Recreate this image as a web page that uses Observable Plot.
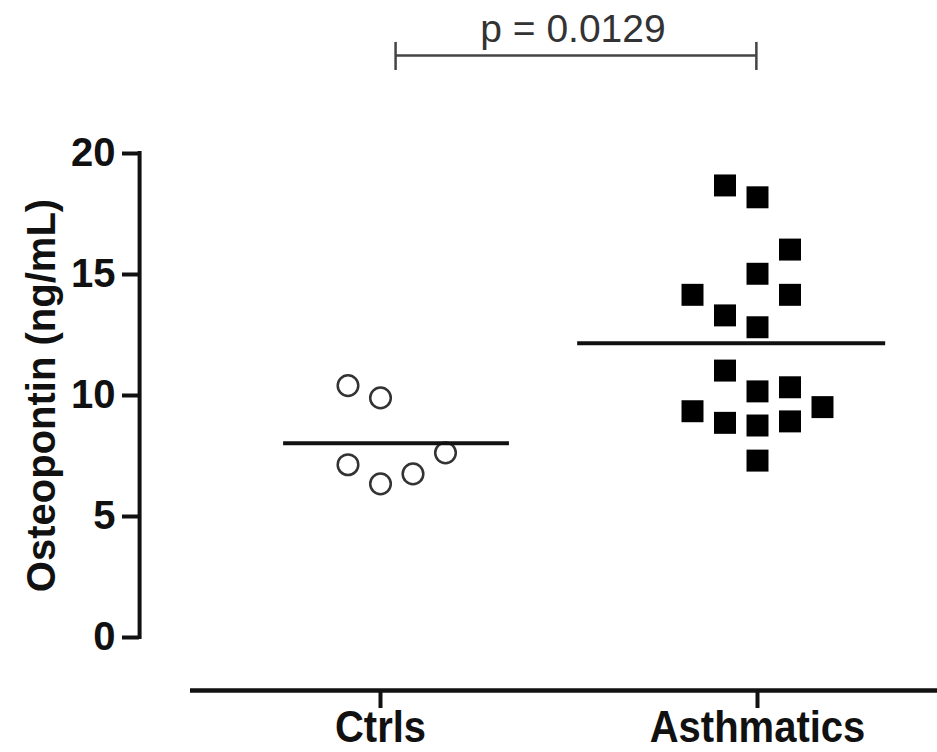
<!DOCTYPE html>
<html><head><meta charset="utf-8">
<script src="https://cdn.jsdelivr.net/npm/d3@7"></script>
<script src="https://cdn.jsdelivr.net/npm/@observablehq/plot@0.6"></script>
<style>
html,body{margin:0;padding:0;background:#fff;}
#chart svg{display:block}
</style></head><body><div id="chart"></div>
<script>
// ---- data ----
const groups = ["Ctrls", "Asthmatics"];
const ctrlValues   = [10.41, 9.90, 7.14, 6.35, 6.76, 7.63];
const ctrlColumns  = [-1, 0, -1, 0, 1, 2];
const asthmaValues = [18.68, 18.19, 16.03, 15.03, 14.16, 14.16, 13.31, 12.82, 11.03, 10.17, 10.34, 9.52, 9.35, 8.87, 8.76, 8.93, 7.31];
const asthmaColumns= [-1, 0, 1, 0, -2, 1, -1, 0, -1, 0, 1, 2, -2, -1, 0, 1, 0];
const yTicks = [0, 5, 10, 15, 20];
const yLabel = "Osteopontin (ng/mL)";
const pLabel = "p = 0.0129";

// ---- layout (group units on x, value units on y) ----
const colStep = 0.0862;                 // horizontal spacing of scatter columns
const meanExtent = [[-0.257, 0.342], [-0.477, 0.340]];
const yAxisAtX = -0.639;                // offset y-axis line
const xAxisAtY = -2.19;                 // offset x-axis line
const xAxisSpan = [-0.504, 1.48];
const bracketX = [0.04, 0.997], bracketY = 24.05, bracketCap = [23.43, 24.59];
const font = "'Liberation Sans', Arial, Helvetica, sans-serif";

const ctrl = ctrlValues.map((v, i) => ({g: 0, v, col: ctrlColumns[i]}));
const asth = asthmaValues.map((v, i) => ({g: 1, v, col: asthmaColumns[i]}));
const means = [
  {g: 0, m: d3.mean(ctrlValues),  lo: meanExtent[0][0], hi: meanExtent[0][1]},
  {g: 1, m: d3.mean(asthmaValues), lo: meanExtent[1][0], hi: meanExtent[1][1]}
];

const chart = Plot.plot({
  width: 937, height: 752,
  marginLeft: 139, marginRight: 0, marginTop: 0, marginBottom: 62,
  x: {domain: [0, 1], range: [380, 757], axis: null},
  y: {domain: [0, 20], range: [637, 153], axis: null},
  style: {fontFamily: font, background: "white", overflow: "visible"},
  marks: [
    // axes
    Plot.ruleX([0], {x: yAxisAtX, y1: 0, y2: 20, stroke: "#111", strokeWidth: 4, strokeLinecap: "square"}),
    Plot.axisY(yTicks, {anchor: "left", tickSize: 17, tickPadding: 7, fontSize: 40, fontWeight: "bold", color: "#111", strokeWidth: 4}),
    Plot.ruleY([0], {y: xAxisAtY, x1: xAxisSpan[0], x2: xAxisSpan[1], stroke: "#111", strokeWidth: 4.5}),
    Plot.axisX([0, 1], {anchor: "bottom", tickFormat: i => groups[i], tickSize: 18, tickPadding: 2, fontSize: 40, fontWeight: "bold", color: "#111", strokeWidth: 4}),
    Plot.text([yLabel], {frameAnchor: "left", y: 10, dx: -97, rotate: -90, textAnchor: "middle", lineAnchor: "middle", text: d => d, fontSize: 40, fontWeight: "bold", fill: "#111"}),
    // points
    Plot.dot(ctrl, {x: d => d.g + d.col * colStep, y: "v", r: 10.3, stroke: "#333", strokeWidth: 2.5, fill: "white"}),
    Plot.dot(asth, {x: d => d.g + d.col * colStep, y: "v", symbol: "square", r: 12.4, fill: "#000", stroke: "none"}),
    // means
    Plot.ruleY(means, {y: "m", x1: d => d.g + d.lo, x2: d => d.g + d.hi, stroke: "#111", strokeWidth: 4}),
    // significance bracket
    Plot.ruleY([0], {y: bracketY, x1: bracketX[0], x2: bracketX[1], stroke: "#444", strokeWidth: 2.5}),
    Plot.ruleX(bracketX, {x: d => d, y1: bracketCap[0], y2: bracketCap[1], stroke: "#444", strokeWidth: 2.5}),
    Plot.text([pLabel], {x: d3.mean(bracketX) - 0.008, y: bracketCap[1], text: d => d, lineAnchor: "bottom", fontSize: 39, fill: "#333"})
  ]
});
// condensed-looking category labels: stretch vertically about their anchor
d3.select(chart).selectAll('g[aria-label="x-axis tick label"] text').each(function () {
  const t = this.getAttribute("transform");
  if (t) this.setAttribute("transform", t + " scale(1,1.12)");
});
document.getElementById("chart").appendChild(chart);
</script>
</body></html>
